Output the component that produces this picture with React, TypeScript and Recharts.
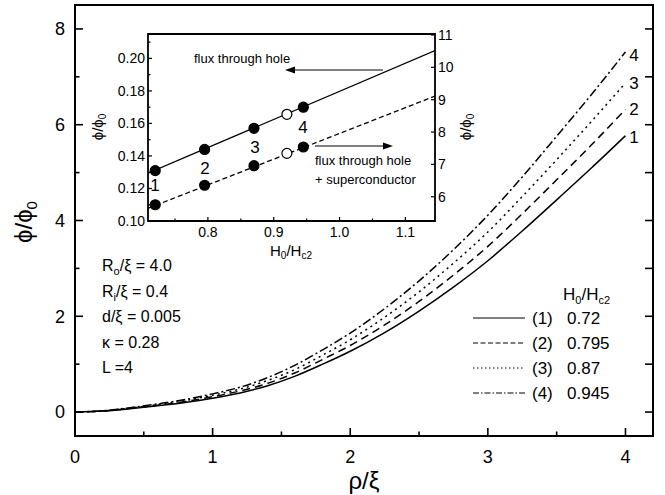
import React from 'react';
import { ComposedChart, Line, Scatter, XAxis, YAxis, ReferenceArea } from 'recharts';

const FONT = 'Liberation Sans, Arial, Helvetica, sans-serif';

// ---------- main panel data ----------
const rho = [0, 0.2, 0.4, 0.6, 0.8, 1.0, 1.2, 1.4, 1.6, 1.8, 2.0, 2.25, 2.5, 2.75, 3.0, 3.25, 3.5, 3.75, 4.0];
const phi1 = [0, 0.02, 0.07, 0.13, 0.2, 0.29, 0.4, 0.55, 0.75, 1.0, 1.27, 1.66, 2.11, 2.61, 3.16, 3.78, 4.43, 5.09, 5.77];
const phi2 = [0, 0.022, 0.077, 0.143, 0.22, 0.32, 0.44, 0.6, 0.82, 1.1, 1.39, 1.82, 2.31, 2.86, 3.46, 4.14, 4.85, 5.57, 6.32];
const phi3 = [0, 0.024, 0.083, 0.155, 0.24, 0.35, 0.48, 0.66, 0.89, 1.19, 1.51, 1.98, 2.51, 3.11, 3.76, 4.5, 5.27, 6.06, 6.87];
const phi4 = [0, 0.026, 0.091, 0.17, 0.26, 0.38, 0.52, 0.72, 0.98, 1.3, 1.65, 2.16, 2.74, 3.39, 4.11, 4.91, 5.76, 6.62, 7.52];

const xTicks = [0, 0.5, 1, 1.5, 2, 2.5, 3, 3.5, 4];
const yTicks = [0, 1, 2, 3, 4, 5, 6, 7, 8];
const legendIds = ['(1)', '(2)', '(3)', '(4)'];
const legendValues = ['0.72', '0.795', '0.87', '0.945'];
const curveLabels = ['1', '2', '3', '4'];

// ---------- inset data ----------
const insetH = [0.72, 0.795, 0.87, 0.945];
const holeFlux = [0.131, 0.144, 0.157, 0.17];
const totalFlux = [0.11, 0.122, 0.134, 0.1455];
const openH = [0.92];
const openHole = [0.1656];
const openTotal = [0.1416];
const lineH = [0.709, 1.145];
const holeLineV = [0.1294, 0.2048];
const totalLineV = [0.1078, 0.1768];
const insetXTicks = [0.75, 0.8, 0.85, 0.9, 0.95, 1.0, 1.05, 1.1];
const insetYTicks = [0.1, 0.11, 0.12, 0.13, 0.14, 0.15, 0.16, 0.17, 0.18, 0.19, 0.2, 0.21];
const insetRTicks = [6, 7, 8, 9, 10, 11];

const mainData = rho.map((r, i) => ({ rho: r, c1: phi1[i], c2: phi2[i], c3: phi3[i], c4: phi4[i] }));
const holeLine = lineH.map((h, i) => ({ h, v: holeLineV[i] }));
const totalLine = lineH.map((h, i) => ({ h, v: totalLineV[i] }));
const holePts = insetH.map((h, i) => ({ h, v: holeFlux[i] }));
const totalPts = insetH.map((h, i) => ({ h, v: totalFlux[i] }));
const openPts = [
  ...openH.map((h, i) => ({ h, v: openHole[i] })),
  ...openH.map((h, i) => ({ h, v: openTotal[i] })),
];

const curveStyles = [
  { key: 'c1', dash: undefined as string | undefined },
  { key: 'c2', dash: '8 5' },
  { key: 'c3', dash: '2 4' },
  { key: 'c4', dash: '9 3 2 3' },
];
const legendDash = [undefined, '5 2.5', '1.5 2.5', '6 2 1.5 2'];

const isInt = (v: number) => Math.abs(v - Math.round(v)) < 1e-6;

const MainXTick = (p: any) => {
  const { x, y, payload } = p;
  const v = payload.value;
  const major = isInt(v);
  return (
    <g>
      <line x1={x} y1={y} x2={x} y2={y - (major ? 8 : 4.5)} stroke="#000" strokeWidth={1.6} />
      {major && (
        <text x={x} y={y + 27} textAnchor="middle" fontSize={18} fontFamily={FONT} fill="#000">
          {v}
        </text>
      )}
    </g>
  );
};

const MainYTick = (p: any) => {
  const { x, y, payload } = p;
  const v = payload.value;
  const major = isInt(v / 2);
  return (
    <g>
      <line x1={x} y1={y} x2={x + (major ? 8 : 4.5)} y2={y} stroke="#000" strokeWidth={1.6} />
      {major && (
        <text x={x - 10} y={y} dy="0.35em" textAnchor="end" fontSize={18} fontFamily={FONT} fill="#000">
          {v}
        </text>
      )}
    </g>
  );
};

const MainRTick = (p: any) => {
  const { x, y } = p;
  return <line x1={x} y1={y} x2={x - 8} y2={y} stroke="#000" strokeWidth={1.6} />;
};

const InsetXTick = (p: any) => {
  const { x, y, payload } = p;
  const v = payload.value;
  const major = isInt(v * 10);
  return (
    <g>
      <line x1={x} y1={y} x2={x} y2={y - (major ? 4 : 2.5)} stroke="#000" strokeWidth={1.2} />
      {major && (
        <text x={x} y={y + 16} textAnchor="middle" fontSize={14} fontFamily={FONT} fill="#000">
          {v.toFixed(1)}
        </text>
      )}
    </g>
  );
};

const InsetYTick = (p: any) => {
  const { x, y, payload } = p;
  const v = payload.value;
  const major = isInt(v * 50);
  return (
    <g>
      <line x1={x} y1={y} x2={x + (major ? 4 : 2.5)} y2={y} stroke="#000" strokeWidth={1.2} />
      {major && (
        <text x={x - 3} y={y} dy="0.35em" textAnchor="end" fontSize={14} fontFamily={FONT} fill="#000">
          {v.toFixed(2)}
        </text>
      )}
    </g>
  );
};

const InsetRTick = (p: any) => {
  const { x, y, payload } = p;
  return (
    <g>
      <line x1={x} y1={y} x2={x - 4} y2={y} stroke="#000" strokeWidth={1.2} />
      <text x={x + 3} y={y} dy="0.35em" textAnchor="start" fontSize={14} fontFamily={FONT} fill="#000">
        {payload.value}
      </text>
    </g>
  );
};

const Dot = (fill: string) => (p: any) => (
  <circle cx={p.cx} cy={p.cy} r={5} fill={fill} stroke="#000" strokeWidth={1.2} />
);

const paramRows = [
  { main: 'R', sub: 'o', rest: '/ξ = 4.0' },
  { main: 'R', sub: 'i', rest: '/ξ = 0.4' },
  { main: 'd/ξ = 0.005', sub: '', rest: '' },
  { main: 'κ = 0.28', sub: '', rest: '' },
  { main: 'L =4', sub: '', rest: '' },
];

export default function App() {
  const curveLabelY = [143, 115, 89, 61];
  return (
    <div style={{ position: 'absolute', left: 0, top: 0, width: 665, height: 495, background: '#fff' }}>
      <div style={{ position: 'absolute', left: 0, top: 0 }}>
        <ComposedChart width={665} height={495} data={mainData} margin={{ top: 5, right: 0, bottom: 0, left: 0 }}>
          <XAxis
            dataKey="rho"
            type="number"
            domain={[0, 4.2]}
            ticks={xTicks}
            interval={0}
            tickSize={0}
            tickMargin={0}
            tickLine={false}
            axisLine={false}
            tick={MainXTick}
            height={59}
            allowDataOverflow
          />
          <YAxis
            yAxisId="l"
            type="number"
            domain={[-0.5, 8.5]}
            ticks={yTicks}
            interval={0}
            width={75}
            tickSize={0}
            tickMargin={0}
            tickLine={false}
            axisLine={false}
            tick={MainYTick}
            allowDataOverflow
          />
          <YAxis
            yAxisId="r"
            orientation="right"
            type="number"
            domain={[-0.5, 8.5]}
            ticks={yTicks}
            interval={0}
            width={12}
            tickSize={0}
            tickMargin={0}
            tickLine={false}
            axisLine={false}
            tick={MainRTick}
            allowDataOverflow
          />
          <ReferenceArea yAxisId="l" x1={0} x2={4.2} y1={-0.5} y2={8.5} fill="none" stroke="#000" strokeWidth={2} ifOverflow="visible" />
          {curveStyles.map((c) => (
            <Line
              key={c.key}
              yAxisId="l"
              dataKey={c.key}
              type="monotone"
              stroke="#000"
              strokeWidth={1.5}
              strokeDasharray={c.dash}
              dot={false}
              isAnimationActive={false}
            />
          ))}
        </ComposedChart>
      </div>

      <div style={{ position: 'absolute', left: 90, top: 25 }}>
        <ComposedChart width={380} height={240} margin={{ top: 9, right: 0, bottom: 0, left: 0 }}>
          <XAxis
            dataKey="h"
            type="number"
            domain={[0.709, 1.145]}
            ticks={insetXTicks}
            interval={0}
            tickSize={0}
            tickMargin={0}
            tickLine={false}
            axisLine={false}
            tick={InsetXTick}
            height={44}
            allowDataOverflow
          />
          <YAxis
            yAxisId="l"
            type="number"
            domain={[0.1, 0.215]}
            ticks={insetYTicks}
            interval={0}
            width={58}
            tickSize={0}
            tickMargin={0}
            tickLine={false}
            axisLine={false}
            tick={InsetYTick}
            allowDataOverflow
          />
          <YAxis
            yAxisId="r"
            orientation="right"
            type="number"
            domain={[5.25, 11.03]}
            ticks={insetRTicks}
            interval={0}
            width={35}
            tickSize={0}
            tickMargin={0}
            tickLine={false}
            axisLine={false}
            tick={InsetRTick}
            allowDataOverflow
          />
          <ReferenceArea yAxisId="l" x1={0.709} x2={1.145} y1={0.1} y2={0.215} fill="none" stroke="#000" strokeWidth={1.8} ifOverflow="visible" />
          <Line yAxisId="l" data={holeLine} dataKey="v" type="linear" stroke="#000" strokeWidth={1.3} dot={false} isAnimationActive={false} />
          <Line yAxisId="l" data={totalLine} dataKey="v" type="linear" stroke="#000" strokeWidth={1.3} strokeDasharray="5 3" dot={false} isAnimationActive={false} />
          <Scatter yAxisId="l" data={holePts} dataKey="v" shape={Dot('#000')} isAnimationActive={false} />
          <Scatter yAxisId="l" data={totalPts} dataKey="v" shape={Dot('#000')} isAnimationActive={false} />
          <Scatter yAxisId="l" data={openPts} dataKey="v" shape={Dot('#fff')} isAnimationActive={false} />
        </ComposedChart>
      </div>

      <svg
        width={665}
        height={495}
        style={{ position: 'absolute', left: 0, top: 0, pointerEvents: 'none' }}
        fontFamily={FONT}
      >
        {/* main axis labels */}
        <text transform="translate(32,222) rotate(-90)" textAnchor="middle" fontSize={24} fill="#000">
          ϕ/ϕ<tspan fontSize={15} dy={5}>0</tspan>
        </text>
        <text x={364} y={489} textAnchor="middle" fontSize={24} fill="#000">ρ/ξ</text>

        {/* parameters */}
        {paramRows.map((r, i) => (
          <text key={i} x={102} y={271 + i * 25.5} fontSize={16} fill="#000">
            {r.main}
            {r.sub && (
              <tspan fontSize={11} dy={4}>{r.sub}</tspan>
            )}
            {r.rest && <tspan dy={r.sub ? -4 : 0}>{r.rest}</tspan>}
          </text>
        ))}

        {/* legend */}
        <text x={563} y={300} fontSize={17} fill="#000">
          H<tspan fontSize={11} dy={4}>0</tspan>
          <tspan dy={-4}>/H</tspan>
          <tspan fontSize={11} dy={4}>c2</tspan>
        </text>
        {legendIds.map((id, i) => (
          <g key={id}>
            <line x1={473} x2={525} y1={318 + i * 25} y2={318 + i * 25} stroke="#000" strokeWidth={1.2} strokeDasharray={legendDash[i]} />
            <text x={532} y={324 + i * 25} fontSize={17} fill="#000">{id}</text>
            <text x={567} y={324 + i * 25} fontSize={17} fill="#000">{legendValues[i]}</text>
          </g>
        ))}

        {/* curve end labels */}
        {curveLabels.map((l, i) => (
          <text key={l} x={634} y={curveLabelY[i]} textAnchor="middle" fontSize={17} fill="#000">{l}</text>
        ))}

        {/* inset annotations */}
        <text transform="translate(103,127) rotate(-90)" textAnchor="middle" fontSize={15} fill="#000">
          ϕ/ϕ<tspan fontSize={10} dy={3}>0</tspan>
        </text>
        <text transform="translate(471,127) rotate(-90)" textAnchor="middle" fontSize={15} fill="#000">
          ϕ/ϕ<tspan fontSize={10} dy={3}>0</tspan>
        </text>
        <text x={291} y={256} textAnchor="middle" fontSize={15} fill="#000">
          H<tspan fontSize={10} dy={3}>0</tspan>
          <tspan dy={-3}>/H</tspan>
          <tspan fontSize={10} dy={3}>c2</tspan>
        </text>
        <text x={194} y={63} fontSize={13} fill="#000">flux through hole</text>
        <line x1={383} y1={70} x2={292} y2={70} stroke="#000" strokeWidth={1.2} />
        <polygon points="285,70 295,66.5 295,73.5" fill="#000" />
        <text x={315} y={165} fontSize={13} fill="#000">flux through hole</text>
        <text x={315} y={184} fontSize={13} fill="#000">+ superconductor</text>
        <line x1={315} y1={146} x2={386} y2={146} stroke="#000" strokeWidth={1.2} />
        <polygon points="393,146 383,142.5 383,149.5" fill="#000" />
        {['1', '2', '3', '4'].map((l, i) => (
          <text key={l} x={[155, 205, 255, 303][i]} y={[191, 174, 153, 133][i]} textAnchor="middle" fontSize={17} fill="#000">{l}</text>
        ))}
      </svg>
    </div>
  );
}
